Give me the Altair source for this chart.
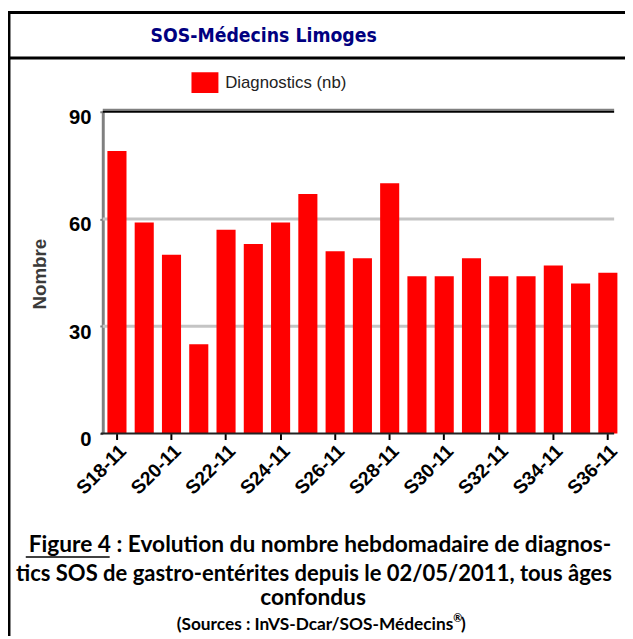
import altair as alt
import pandas as pd

weeks = ["S18-11", "S19-11", "S20-11", "S21-11", "S22-11", "S23-11", "S24-11",
         "S25-11", "S26-11", "S27-11", "S28-11", "S29-11", "S30-11", "S31-11",
         "S32-11", "S33-11", "S34-11", "S35-11", "S36-11"]
values = [79, 59, 50, 25, 57, 53, 59, 67, 51, 49, 70, 44, 44, 49, 44, 44, 47, 42, 45]
y_ticks = [0, 30, 60, 90]
grid_values = [30, 60]
x_label_weeks = weeks[::2]
series_name = "Diagnostics (nb)"
y_title = "Nombre"
title_text = "SOS-Médecins Limoges"
caption_lines = [
    "Figure 4 : Evolution du nombre hebdomadaire de diagnos-",
    "tics SOS de gastro-entérites depuis le 02/05/2011, tous âges",
    "confondus",
]
source_main = "(Sources : InVS-Dcar/SOS-Médecins"
source_reg = "®"
source_end = ")"

df = pd.DataFrame({"semaine": weeks, "nb": values, "serie": series_name})

W, H = 526, 326
PLOT_RIGHT = 518
RED = "#ff0000"
NARROW = "DejaVu Sans Condensed, sans-serif"
CAP_FONT = "Lato, Liberation Sans, sans-serif"

yscale = alt.Scale(domain=[0, 90])
y_axis = alt.Axis(values=y_ticks, title=y_title, grid=False,
                  labelFontSize=20.5, labelFontWeight="bold", labelColor="black",
                  labelFont="Liberation Sans", labelPadding=9, labelBaseline="top",
                  labelOffset=-4,
                  domainColor="#808080", domainWidth=3,
                  tickColor="#808080", tickSize=3, tickWidth=2,
                  titleFontSize=19, titleFontWeight="bold", titleColor="#3a3a3a",
                  titleFont="Liberation Sans", titleX=-64, titleY=164,
                  titleAngle=-90, titleAlign="center", titleBaseline="middle")

grid = alt.Chart(pd.DataFrame({"v": grid_values})).mark_rule(
    color="#c4c4c4", strokeWidth=3).encode(
    y=alt.Y("v:Q", scale=yscale, axis=y_axis, title=y_title),
    x=alt.value(0), x2=alt.value(PLOT_RIGHT))

bars = alt.Chart(df).mark_bar().encode(
    x=alt.X("semaine:N", sort=weeks,
            scale=alt.Scale(paddingInner=0.3, paddingOuter=0.17),
            axis=alt.Axis(values=x_label_weeks, title=None, labelAngle=-45,
                          labelFontSize=19.5, labelFontWeight="bold", labelColor="black",
                          labelFont="Liberation Sans", tickColor="black", tickSize=6,
                          tickWidth=2, domain=False, labelPadding=2)),
    y=alt.Y("nb:Q", scale=yscale, axis=y_axis, title=y_title),
    color=alt.Color("serie:N", scale=alt.Scale(domain=[series_name], range=[RED]),
                    legend=alt.Legend(title=None, orient="none", legendX=93, legendY=-40,
                                      symbolType="M-1.3,-1L1.3,-1L1.3,1L-1.3,1Z",
                                      symbolSize=441, symbolStrokeWidth=0,
                                      symbolOpacity=1,
                                      labelFontSize=17, labelColor="#222222",
                                      labelFont="Liberation Sans", labelOffset=10,
                                      padding=0)),
)

baseline = alt.Chart(pd.DataFrame({"v": [0]})).mark_rule(
    color="#222222", strokeWidth=2).encode(
    y=alt.Y("v:Q", scale=yscale, axis=y_axis, title=y_title),
    x=alt.value(-2), x2=alt.value(PLOT_RIGHT))

top_gray = alt.Chart(pd.DataFrame({"v": [90]})).mark_rule(
    color="#808080", strokeWidth=2, yOffset=-2).encode(
    y=alt.Y("v:Q", scale=yscale, axis=y_axis, title=y_title),
    x=alt.value(0), x2=alt.value(PLOT_RIGHT))
top_black = alt.Chart(pd.DataFrame({"v": [90]})).mark_rule(
    color="black", strokeWidth=2).encode(
    y=alt.Y("v:Q", scale=yscale, axis=y_axis, title=y_title),
    x=alt.value(0), x2=alt.value(PLOT_RIGHT))


def text_layer(txt, x, y, size, color="black", font=CAP_FONT, weight="bold", align="center"):
    return alt.Chart(pd.DataFrame({"t": [txt]})).mark_text(
        font=font, fontSize=size, fontWeight=weight, color=color,
        align=align, baseline="alphabetic").encode(
        text="t:N", x=alt.value(x), y=alt.value(y))


def hline(x1, x2, y, width=3, color="black"):
    return alt.Chart(pd.DataFrame({"a": [0]})).mark_rule(
        color=color, strokeWidth=width).encode(
        x=alt.value(x1), x2=alt.value(x2), y=alt.value(y))


def vline(x, y1, y2, width=3, color="black"):
    return alt.Chart(pd.DataFrame({"a": [0]})).mark_rule(
        color=color, strokeWidth=width).encode(
        x=alt.value(x), y=alt.value(y1), y2=alt.value(y2))


title = text_layer(title_text, 163, -71, 19.5, color="#000080", font=NARROW)
cap1 = text_layer(caption_lines[0], 220, 446, 23)
cap2 = text_layer(caption_lines[1], 214, 475, 22.3)
cap3 = text_layer(caption_lines[2], 213, 500, 23)
cap4a = text_layer(source_main, 355, 525, 17.5, align="right")
cap4b = text_layer(source_reg, 355, 517, 11, align="left")
cap4c = text_layer(source_end, 363, 525, 17.5, align="left")

borders = [
    hline(-96, 530, -100.5),
    hline(-96, 530, -54.5),
    vline(-95, -100.5, 531),
    hline(-78, 7, 451, width=1.5),
]

chart = alt.layer(grid, bars, baseline, top_gray, top_black, title,
                  cap1, cap2, cap3, cap4a, cap4b, cap4c, *borders).properties(
    width=W, height=H,
    autosize=alt.AutoSizeParams(type="none"),
    padding={"left": 96, "top": 101, "right": 3, "bottom": 204},
).configure_view(stroke=None)

chart.save("out.html", embed_options={"renderer": "svg", "actions": False})
